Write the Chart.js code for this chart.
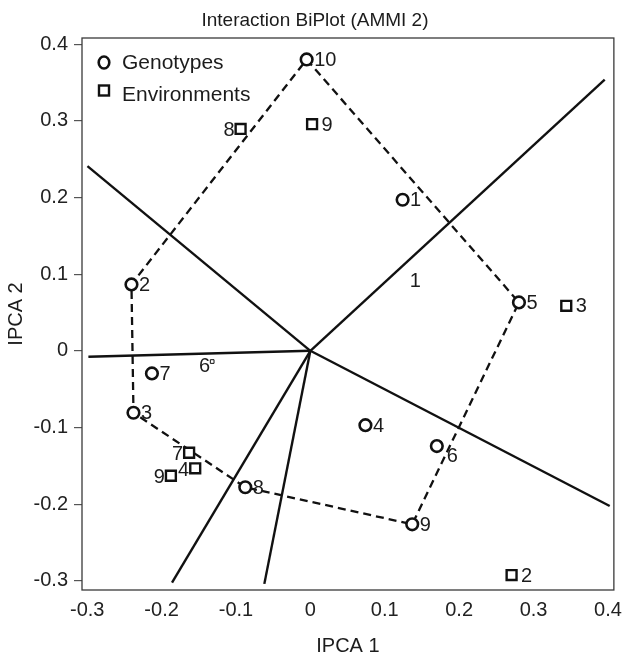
<!DOCTYPE html>
<html><head><meta charset="utf-8">
<script src="https://cdn.jsdelivr.net/npm/chart.js@4.4.1/dist/chart.umd.min.js"></script>
<style>html,body{margin:0;padding:0;background:#fff;}#c{display:block;}</style>
</head><body>
<canvas id="c" width="630" height="659"></canvas>
<script>
// ---- data ----
const genotypeLabels = ['1','2','3','4','5','6','7','8','9','10'];
const genotypeIPCA1 = [0.124,-0.2405,-0.2378,0.074,0.2804,0.170,-0.213,-0.0875,0.1369,-0.005];
const genotypeIPCA2 = [0.197,0.0866,-0.0808,-0.097,0.0631,-0.1243,-0.0295,-0.178,-0.2263,0.380];
const environmentLabels = ['1','2','3','4','6','7','8','9','9'];
const environmentIPCA1 = [0.141,0.2705,0.344,-0.1548,-0.132,-0.163,-0.0938,0.0023,-0.1875];
const environmentIPCA2 = [0.090,-0.2925,0.0587,-0.1533,-0.014,-0.133,0.2894,0.2956,-0.163];
const hullOrder = ['10','5','9','8','3','2','10'];
const sectorEndIPCA1 = [-0.2997,0.3957,0.4024,-0.0619,-0.186,-0.2984];
const sectorEndIPCA2 = [0.2408,0.3538,-0.2025,-0.304,-0.3025,-0.0078];
const xTickValues = [-0.3,-0.2,-0.1,0,0.1,0.2,0.3,0.4];
const xTickLabels = ['-0.3','-0.2','-0.1','0','0.1','0.2','0.3','0.4'];
const yTickValues = [-0.3,-0.2,-0.1,0,0.1,0.2,0.3,0.4];
const yTickLabels = ['-0.3','-0.2','-0.1','0','0.1','0.2','0.3','0.4'];
const chartTitle = 'Interaction BiPlot (AMMI 2)';
const xTitle = 'IPCA 1';
const yTitle = 'IPCA 2';
const legendNames = ['Genotypes','Environments'];

// ---- styling (not data) ----
const FONT = '"Liberation Sans", Arial, Helvetica, sans-serif';
const INK = '#111';
const TEXT = '#1c1c1c';
const envLabelPlace = ['center','right','right','left','left-low','left','left','right','left'];
const genoLabelPlace = genotypeLabels.map(l => l === '6' ? 'below-right' : 'right');
const envRadius = environmentLabels.map((l,i) => i === 0 ? 0 : (i === 4 ? 2.6 : 7));
const envBorder = environmentLabels.map((l,i) => i === 4 ? 1 : 2.4);

const genoPts = genotypeLabels.map((l,i) => ({x: genotypeIPCA1[i], y: genotypeIPCA2[i]}));
const envPts = environmentLabels.map((l,i) => ({x: environmentIPCA1[i], y: environmentIPCA2[i]}));
const hullPts = hullOrder.map(l => genoPts[genotypeLabels.indexOf(l)]);

const datasets = [
  {label:'Genotypes', data: genoPts, pointStyle:'circle', pointRadius:5.8, pointBorderWidth:2.6,
   pointBorderColor:INK, pointBackgroundColor:'#fff', showLine:false, order:0},
  {label:'Environments', data: envPts, pointStyle:'rect', pointRadius: envRadius, pointBorderWidth: envBorder,
   pointBorderColor:INK, pointBackgroundColor:'#fff', showLine:false, order:1},
  {label:'hull', data: hullPts, showLine:true, borderColor:INK, borderWidth:2.3, borderDash:[8,5],
   pointRadius:0, fill:false, tension:0, order:3}
];
sectorEndIPCA1.forEach((x,i) => {
  datasets.push({label:'sector'+i, data:[{x:0,y:0},{x:x,y:sectorEndIPCA2[i]}], showLine:true,
    borderColor:INK, borderWidth:2.4, pointRadius:0, fill:false, order:4});
});

const decor = {
  id:'decor',
  beforeDatasetsDraw(chart){
    const {ctx, chartArea:a} = chart;
    ctx.save();
    ctx.strokeStyle = '#3a3a3a'; ctx.lineWidth = 1.3;
    ctx.strokeRect(a.left, a.top, a.right - a.left, a.bottom - a.top);
    ctx.restore();
  },
  afterDatasetsDraw(chart){
    const {ctx} = chart;
    const xs = chart.scales.x, ys = chart.scales.y;
    ctx.save();
    ctx.fillStyle = TEXT;
    ctx.font = '20px ' + FONT;
    ctx.textBaseline = 'middle';
    genoPts.forEach((p,i) => {
      const px = xs.getPixelForValue(p.x), py = ys.getPixelForValue(p.y);
      ctx.textAlign = 'left';
      if (genoLabelPlace[i] === 'below-right') ctx.fillText(genotypeLabels[i], px+10, py+10);
      else ctx.fillText(genotypeLabels[i], px+7.5, py+1);
    });
    envPts.forEach((p,i) => {
      const px = xs.getPixelForValue(p.x), py = ys.getPixelForValue(p.y);
      const pl = envLabelPlace[i];
      if (pl === 'right') { ctx.textAlign='left'; ctx.fillText(environmentLabels[i], px+9.5, py+1); }
      else if (pl === 'left') { ctx.textAlign='right'; ctx.fillText(environmentLabels[i], px-6, py+2); }
      else if (pl === 'left-low') { ctx.textAlign='right'; ctx.fillText(environmentLabels[i], px-2, py+5); }
      else { ctx.textAlign='center'; ctx.fillText(environmentLabels[i], px, py); }
    });
    // legend
    ctx.strokeStyle = INK; ctx.lineWidth = 2.6;
    ctx.beginPath(); ctx.ellipse(104, 62.5, 5.3, 6, 0, 0, Math.PI*2); ctx.stroke();
    ctx.lineWidth = 2.4;
    ctx.strokeRect(99, 85.5, 10, 10);
    ctx.font = '21px ' + FONT; ctx.textAlign = 'left'; ctx.fillStyle = TEXT;
    ctx.fillText(legendNames[0], 122, 63);
    ctx.fillText(legendNames[1], 122, 95.5);
    ctx.restore();
  },
  afterDraw(chart){
    const {ctx} = chart;
    ctx.save();
    ctx.fillStyle = TEXT; ctx.font = '19px ' + FONT;
    ctx.textAlign = 'center'; ctx.textBaseline = 'middle';
    ctx.fillText(chartTitle, 315, 21);
    ctx.restore();
  }
};

new Chart(document.getElementById('c'), {
  type:'scatter',
  data:{datasets},
  plugins:[decor],
  options:{
    responsive:false, animation:false, devicePixelRatio:1,
    layout:{padding:{top:38, right:16, left:0, bottom:0}},
    plugins:{legend:{display:false}, tooltip:{enabled:false}, title:{display:false}},
    scales:{
      x:{type:'linear', min:-0.307, max:0.408,
        afterBuildTicks(s){ s.ticks = xTickValues.map(v => ({value:v})); },
        afterFit(s){ s.height = 69; },
        grid:{display:false, drawTicks:false},
        border:{display:false},
        ticks:{padding:8, color:'#222', font:{family:FONT, size:20}, maxRotation:0, autoSkip:false,
          callback:(v,i) => xTickLabels[i]},
        title:{display:true, text:xTitle, color:TEXT, font:{family:FONT, size:20}, padding:{top:0,bottom:1}}
      },
      y:{type:'linear', min:-0.312, max:0.408,
        afterBuildTicks(s){ s.ticks = yTickValues.map(v => ({value:v})); },
        afterFit(s){ s.width = 82; },
        grid:{display:true, drawOnChartArea:false, drawTicks:true, tickLength:8, color:'#555', lineWidth:1.2},
        border:{display:false},
        ticks:{padding:6, color:'#222', font:{family:FONT, size:20}, autoSkip:false,
          callback:(v,i) => yTickLabels[i]},
        title:{display:true, text:yTitle, color:TEXT, font:{family:FONT, size:20}, padding:{top:4,bottom:0}}
      }
    }
  }
});
</script>
</body></html>
